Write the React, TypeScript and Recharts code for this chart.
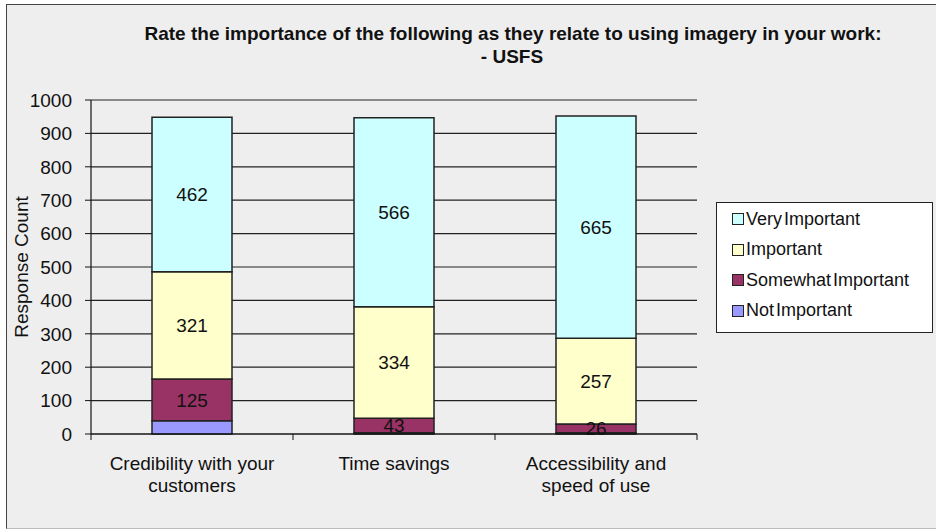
import { BarChart, Bar, XAxis, YAxis, CartesianGrid, LabelList } from "recharts";

const categories = ["Credibility with your customers", "Time savings", "Accessibility and speed of use"];
const notImportant = [40, 4, 4];
const somewhatImportant = [125, 43, 26];
const important = [321, 334, 257];
const veryImportant = [462, 566, 665];
const yTicks = [0, 100, 200, 300, 400, 500, 600, 700, 800, 900, 1000];

const series = [
  { key: "not", name: "Not Important", color: "#9999FF", label: false },
  { key: "somewhat", name: "Somewhat Important", color: "#993366", label: true },
  { key: "important", name: "Important", color: "#FFFFCC", label: true },
  { key: "very", name: "Very Important", color: "#CCFFFF", label: true },
];

const data = categories.map((name, i) => ({
  name,
  not: notImportant[i],
  somewhat: somewhatImportant[i],
  important: important[i],
  very: veryImportant[i],
}));

const FONT = "'Liberation Sans', Arial, sans-serif";
const HALF_BAND = 101;

const wrap = (s: string, max: number) => {
  const lines: string[] = [];
  let cur = "";
  s.split(" ").forEach((w) => {
    const next = cur ? cur + " " + w : w;
    if (next.length > max && cur) {
      lines.push(cur);
      cur = w;
    } else cur = next;
  });
  if (cur) lines.push(cur);
  return lines;
};

const CatTick = (props: any) => {
  const { x, y, payload, index } = props;
  const axisY = y - 8;
  const lines = wrap(String(payload.value), 21);
  return (
    <g>
      <line x1={x - HALF_BAND} x2={x - HALF_BAND} y1={axisY} y2={axisY + 6} stroke="#111" />
      {index === categories.length - 1 && (
        <line x1={x + HALF_BAND} x2={x + HALF_BAND} y1={axisY} y2={axisY + 6} stroke="#111" />
      )}
      {lines.map((l, i) => (
        <text key={i} x={x} y={y + 28 + i * 22} textAnchor="middle" fontSize={19} fontFamily={FONT} fill="#111">
          {l}
        </text>
      ))}
    </g>
  );
};

const LegendBox = () => (
  <div
    style={{
      position: "absolute",
      left: 716,
      top: 202,
      background: "#fff",
      border: "1.5px solid #222",
      width: 217,
      height: 131,
      paddingTop: 1,
      fontFamily: FONT,
      fontSize: 18,
      color: "#111",
      boxSizing: "border-box",
    }}
  >
    {[...series].reverse().map((s) => (
      <div key={s.key} style={{ display: "flex", alignItems: "center", height: 30.5, paddingLeft: 15 }}>
        <span
          style={{
            display: "inline-block",
            width: 10,
            height: 10,
            background: s.color,
            border: "1.5px solid #222",
            marginRight: 2,
          }}
        />
        <span style={{ wordSpacing: -3 }}>{s.name}</span>
      </div>
    ))}
  </div>
);

export default function App() {
  return (
    <div style={{ position: "absolute", left: 0, top: 0, width: 936, height: 529, background: "#fff", overflow: "hidden" }}>
      <div
        style={{
          position: "absolute",
          left: 6,
          top: 4,
          width: 940,
          height: 523,
          background: "#EEEEEE",
          borderLeft: "1.5px solid #444",
          borderTop: "1.5px solid #444",
          borderBottom: "1.5px solid #bbb",
        }}
      />
      <svg style={{ position: "absolute", left: 0, top: 0 }} width={936} height={529}>
        <text x={513} y={40} textAnchor="middle" fontSize={19} fontWeight="bold" fontFamily={FONT} fill="#111" textLength={737} lengthAdjust="spacingAndGlyphs">
          Rate the importance of the following as they relate to using imagery in your work:
        </text>
        <text x={512} y={63} textAnchor="middle" fontSize={19} fontWeight="bold" fontFamily={FONT} fill="#111">
          - USFS
        </text>
        <text x={28} y={267} textAnchor="middle" fontSize={19} fontFamily={FONT} fill="#111" transform="rotate(-90 28 267)">
          Response Count
        </text>
      </svg>
      <div style={{ position: "absolute", left: 0, top: 0 }}>
        <BarChart width={936} height={529} data={data} margin={{ top: 100, right: 239, bottom: 35, left: 31 }}>
          <CartesianGrid vertical={false} stroke="#222" strokeWidth={1.2} />
          <XAxis dataKey="name" axisLine={{ stroke: "#111", strokeWidth: 1.2 }} tickLine={false} tick={<CatTick />} height={60} interval={0} />
          <YAxis
            domain={[0, 1000]}
            ticks={yTicks}
            width={60}
            axisLine={{ stroke: "#111", strokeWidth: 1.2 }}
            tickLine={{ stroke: "#111" }}
            tickSize={6}
            tickMargin={13}
            tick={{ fontSize: 19, fontFamily: FONT, fill: "#111" }}
          />
          {series.map((s) => (
            <Bar
              key={s.key}
              dataKey={s.key}
              name={s.name}
              stackId="a"
              fill={s.color}
              stroke="#222"
              strokeWidth={1.5}
              barSize={80}
              isAnimationActive={false}
            >
              {s.label && <LabelList dataKey={s.key} position="center" fontSize={19} fontFamily={FONT} fill="#111" />}
            </Bar>
          ))}
        </BarChart>
      </div>
      <LegendBox />
    </div>
  );
}
